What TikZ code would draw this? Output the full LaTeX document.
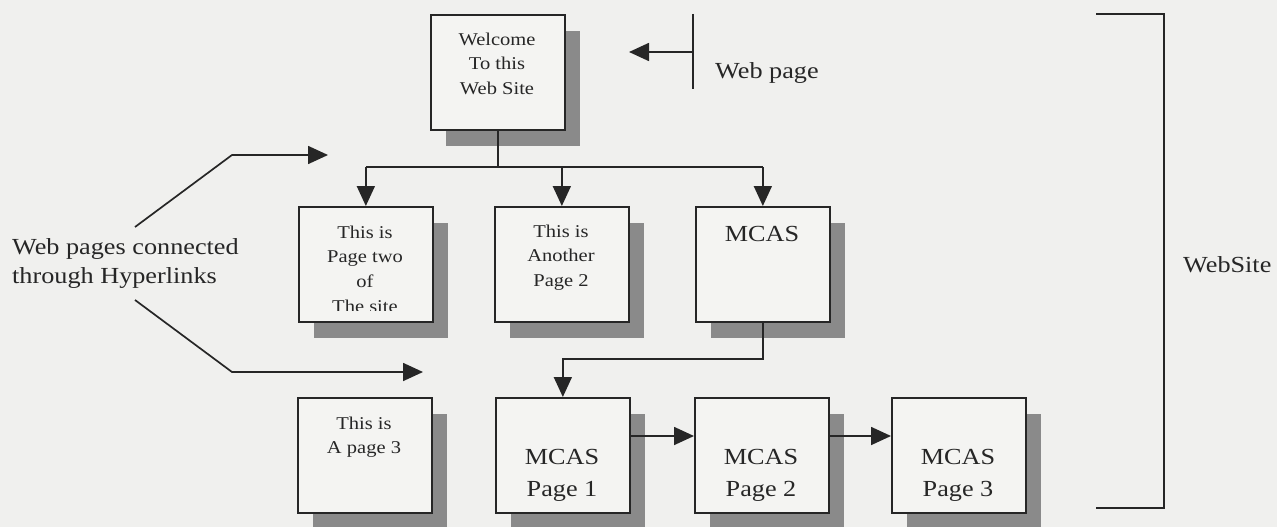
\documentclass[tikz,border=0pt]{standalone}
\usepackage{fontspec}
\setmainfont{Liberation Serif}[FakeStretch=1.14]
\usetikzlibrary{arrows.meta,shadows}
\definecolor{bg}{RGB}{240,240,238}
\definecolor{boxfill}{RGB}{244,244,242}
\definecolor{ink}{RGB}{38,38,38}
\definecolor{shade}{RGB}{138,138,138}
\begin{document}
\begin{tikzpicture}[x=1pt,y=-1pt,
  ln/.style={draw=ink, line width=1.7pt},
  arr/.style={ln, -{Triangle[length=20pt,width=18pt]}},
  page/.style={draw=ink, line width=1.7pt, fill=boxfill, minimum width=134pt, minimum height=115pt, inner sep=0pt, anchor=north west,
    drop shadow={shadow xshift=15pt, shadow yshift=-16pt, fill=shade, draw=none, opacity=1}},
  small/.style={font=\fontsize{18}{24.7}\selectfont, align=center, anchor=base, inner sep=0pt, text=ink},
  big/.style={font=\fontsize{23}{32}\selectfont, align=center, anchor=base, inner sep=0pt, text=ink},
  lab/.style={font=\fontsize{23}{29}\selectfont, align=left, anchor=base west, inner sep=0pt, text=ink}]
\fill[bg] (0,0) rectangle (1277,527);
\useasboundingbox (0,0) rectangle (1277,527);

% boxes
\node[page] (top) at (430,14) {};
\node[page] (a) at (298,206) {};
\node[page] (b) at (494,206) {};
\node[page] (c) at (695,206) {};
\node[page] (d0) at (297,397) {};
\node[page] (d1) at (495,397) {};
\node[page] (d2) at (694,397) {};
\node[page] (d3) at (891,397) {};

% texts (anchor = baseline of the last line)
\node[small] (toptx) at (497,94.4) {Welcome\\To this\\Web Site};
\begin{scope}
  \clip (a.north west) rectangle ([yshift=12pt]a.south east);
  \node[small] (atx) at (365,312.1) {This is\\Page two\\of\\The site};
\end{scope}
\node[small] (btx) at (561,286.4) {This is\\Another\\Page 2};
\node[big] (ctx) at (762,241) {MCAS};
\node[small] (d0tx) at (364,453.7) {This is\\A page 3};
\node[big] (d1tx) at (562,496) {MCAS\\Page 1};
\node[big] (d2tx) at (761,496) {MCAS\\Page 2};
\node[big] (d3tx) at (958,496) {MCAS\\Page 3};

% tree connectors
\coordinate (bus) at (0,167);
\draw[ln] (top.south) -- (top.south |- bus);
\draw[ln] (a.north |- bus) -- (c.north |- bus);
\draw[arr] (a.north |- bus) -- (a.north);
\draw[arr] (b.north |- bus) -- (b.north);
\draw[arr] (c.north |- bus) -- (c.north);
\coordinate (bus2) at (0,359);
\draw[arr] (c.south) -- (c.south |- bus2) -| (d1.north);
\coordinate (row3) at (0,436);
\draw[arr] (d1.east |- row3) -- (d2.west |- row3);
\draw[arr] (d2.east |- row3) -- (d3.west |- row3);

% web page annotation
\coordinate (wpT) at (693,14);
\coordinate (wpB) at (693,89);
\coordinate (wpM) at (693,52);
\coordinate (wpTip) at (629,52);
\draw[ln] (wpT) -- (wpB);
\draw[arr] (wpM) -- (wpTip);
\node[lab] (wp) at (715,78) {Web page};

% hyperlinks annotation
\node[lab] (hl) at (12,283) {Web pages connected\\through Hyperlinks};
\coordinate (u0) at (135,227);
\coordinate (u1) at (232,155);
\coordinate (u2) at (328,155);
\coordinate (l0) at (135,300);
\coordinate (l1) at (232,372);
\coordinate (l2) at (423,372);
\draw[arr] (u0) -- (u1) -- (u2);
\draw[arr] (l0) -- (l1) -- (l2);

% website bracket
\coordinate (bT) at (1096,14);
\coordinate (bTR) at (1164,14);
\coordinate (bBR) at (1164,508);
\coordinate (bB) at (1096,508);
\draw[ln] (bT) -- (bTR) -- (bBR) -- (bB);
\node[lab] (ws) at (1183,272) {WebSite};
\end{tikzpicture}
\end{document}
